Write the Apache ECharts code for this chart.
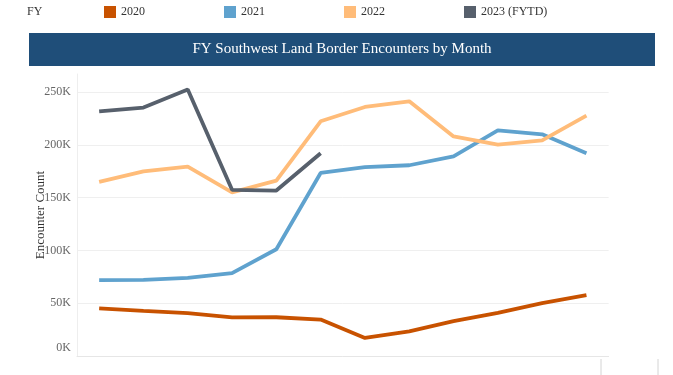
<!DOCTYPE html>
<html>
<head>
<meta charset="utf-8">
<script src="https://cdn.jsdelivr.net/npm/echarts@6/dist/echarts.min.js"></script>
<style>
html,body{margin:0;padding:0;background:#fff;}
#c{width:673px;height:375px;}
</style>
</head>
<body>
<div id="c"></div>
<script>
const months = ['Oct','Nov','Dec','Jan','Feb','Mar','Apr','May','Jun','Jul','Aug','Sep'];
const fy2020 = [45139, 42643, 40565, 36585, 36687, 34460, 17106, 23237, 33049, 40929, 50014, 57674];
const fy2021 = [71929, 72113, 73994, 78414, 101099, 173277, 178795, 180597, 189034, 213593, 209840, 192001];
const fy2022 = [164837, 174845, 179253, 154874, 166010, 222239, 235785, 241136, 207834, 200162, 204087, 227547];
const fy2023 = [231529, 235173, 252315, 157358, 156630, 191899];
const yTicks = [0, 50000, 100000, 150000, 200000, 250000];
const seriesNames = ['2020', '2021', '2022', '2023 (FYTD)'];
const colors = ['#c85200', '#5fa2ce', '#ffbc79', '#57606c'];
const seriesData = [fy2020, fy2021, fy2022, fy2023];

const font = '"Liberation Serif", "Times New Roman", serif';
const chart = echarts.init(document.getElementById('c'));
chart.setOption({
  animation: false,
  textStyle: {fontFamily: font},
  color: colors,
  graphic: [
    {type: 'text', x: 27, y: 12, style: {text: 'FY', font: '12px ' + font, fill: '#333', verticalAlign: 'middle'}},
    {type: 'rect', shape: {x: 29, y: 33, width: 626, height: 33}, style: {fill: '#1f4e79'}},
    {type: 'text', x: 342, y: 49.5, style: {text: 'FY Southwest Land Border Encounters by Month', font: '15px ' + font, fill: '#fff', align: 'center', verticalAlign: 'middle'}},
    {type: 'line', shape: {x1: 601, y1: 359, x2: 601, y2: 375}, style: {stroke: '#d4d4d4', lineWidth: 1}},
    {type: 'line', shape: {x1: 658, y1: 359, x2: 658, y2: 375}, style: {stroke: '#d4d4d4', lineWidth: 1}}
  ],
  legend: {
    left: 104, top: 6, padding: 0,
    itemWidth: 12, itemHeight: 12, itemGap: 79,
    icon: 'rect',
    textStyle: {fontSize: 12, color: '#333', fontFamily: font},
    data: seriesNames
  },
  grid: {left: 77, right: 64.4, top: 74, bottom: 19},
  xAxis: {
    type: 'category',
    data: months,
    boundaryGap: true,
    axisLine: {lineStyle: {color: '#e6e6e6'}},
    axisTick: {show: false},
    axisLabel: {show: false},
    splitLine: {show: false}
  },
  yAxis: {
    type: 'value',
    min: 0, max: 267000, interval: 50000,
    name: 'Encounter Count',
    nameLocation: 'middle',
    nameRotate: 90,
    nameGap: 30,
    nameMoveOverlap: false,
    nameTextStyle: {fontSize: 13, color: '#333', fontFamily: font},
    axisLine: {show: true, lineStyle: {color: '#eeeeee'}},
    axisTick: {show: false},
    axisLabel: {
      fontSize: 12, color: '#666', fontFamily: font, margin: 6,
      showMaxLabel: false,
      formatter: function (v) {
        if (yTicks.indexOf(v) < 0) return '';
        const t = (v / 1000) + 'K';
        return v === 0 ? '{z|' + t + '}' : t;
      },
      rich: {z: {fontSize: 12, color: '#666', fontFamily: font, padding: [0, 0, 16, 0]}}
    },
    splitLine: {show: true, showMaxLine: false, showMinLine: false, lineStyle: {color: '#efefef', width: 1}}
  },
  series: seriesData.map((d, i) => ({
    name: seriesNames[i],
    type: 'line',
    data: d,
    symbol: 'none',
    lineStyle: {width: 3.8, color: colors[i]},
    itemStyle: {color: colors[i]},
    z: i === 3 ? 5 : (i === 2 ? 4 : 3)
  }))
});
</script>
</body>
</html>
